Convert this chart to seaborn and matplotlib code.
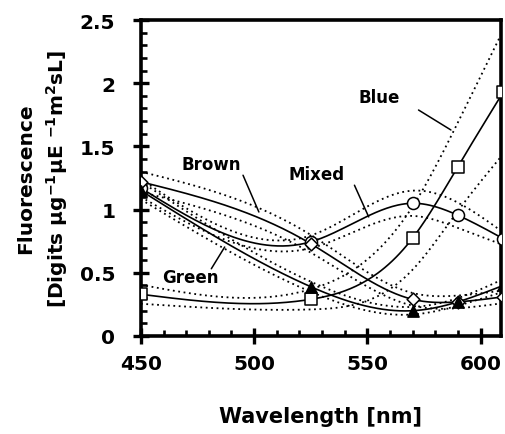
import numpy as np
import pandas as pd
import matplotlib
matplotlib.use("Agg")
import matplotlib.pyplot as plt
import seaborn as sns
from matplotlib.ticker import MultipleLocator

# measured points (wavelength, mean fluorescence, spread)
wavelength = [450, 525, 570, 590, 610]
blue = [0.33, 0.29, 0.775, 1.34, 1.93]
blue_sd = [0.075, 0.08, 0.25, 0.35, 0.49]
mixed = [1.17, 0.745, 1.05, 0.955, 0.77]
mixed_sd = [0.07, 0.05, 0.10, 0.10, 0.05]
brown = [1.22, 0.73, 0.29, 0.27, 0.31]
brown_sd = [0.08, 0.07, 0.05, 0.05, 0.05]
green = [1.15, 0.39, 0.20, 0.27, 0.40]
green_sd = [0.07, 0.04, 0.03, 0.03, 0.05]

series_names = ["Blue", "Mixed", "Brown", "Green"]


def smooth(x, y, n=200):
    # natural cubic spline, only used to draw the curve through the points
    x = np.asarray(x, float)
    y = np.asarray(y, float)
    h = np.diff(x)
    m = len(x)
    A = np.zeros((m, m))
    b = np.zeros(m)
    A[0, 0] = A[-1, -1] = 1
    for i in range(1, m - 1):
        A[i, i - 1] = h[i - 1]
        A[i, i] = 2 * (h[i - 1] + h[i])
        A[i, i + 1] = h[i]
        b[i] = 3 * ((y[i + 1] - y[i]) / h[i] - (y[i] - y[i - 1]) / h[i - 1])
    c = np.linalg.solve(A, b)
    bb = (y[1:] - y[:-1]) / h - h * (2 * c[:-1] + c[1:]) / 3
    d = (c[1:] - c[:-1]) / (3 * h)
    xs = np.linspace(x[0], x[-1], n)
    idx = np.clip(np.searchsorted(x, xs) - 1, 0, m - 2)
    dx = xs - x[idx]
    ys = y[idx] + bb[idx] * dx + c[idx] * dx ** 2 + d[idx] * dx ** 3
    return xs, ys


sns.set_style("ticks")
plt.rcParams["font.family"] = ["DejaVu Sans"]
plt.rcParams["font.weight"] = "bold"
plt.rcParams["mathtext.default"] = "regular"
for key in ["text.color", "axes.labelcolor", "axes.edgecolor",
            "xtick.color", "ytick.color"]:
    plt.rcParams[key] = "black"

fig = plt.figure(figsize=(5.05, 4.35), dpi=100)
ax = fig.add_axes([0.279, 0.2253, 0.713, 0.7264])

styles = {
    "Blue": (blue, blue_sd, "s", "white", 75),
    "Mixed": (mixed, mixed_sd, "o", "white", 75),
    "Brown": (brown, brown_sd, "D", "white", 42),
    "Green": (green, green_sd, "^", "black", 65),
}

for name in series_names:
    vals, sd, mk, fc, sz = styles[name]
    vals = np.array(vals)
    sd = np.array(sd)
    for bound in (vals + sd, vals - sd):
        xs, ys = smooth(wavelength, bound)
        sns.lineplot(x=xs, y=ys, ax=ax, color="black", lw=1.3,
                     linestyle=(0, (1, 2.0)), sort=False)
    xs, ys = smooth(wavelength, vals)
    sns.lineplot(x=xs, y=ys, ax=ax, color="black", lw=1.2, sort=False)

for name in series_names:
    vals, sd, mk, fc, sz = styles[name]
    df = pd.DataFrame({"wl": wavelength, "f": vals})
    sns.scatterplot(data=df, x="wl", y="f", ax=ax, marker=mk, s=sz,
                    facecolor=fc, edgecolor="black", linewidth=1.1, zorder=5)

# curve labels with pointer lines
labels = {
    "Blue": ((555.3, 1.89), (572.6, 1.788), (586.9, 1.63)),
    "Brown": ((481.1, 1.361), (495.1, 1.272), (502.1, 0.981)),
    "Mixed": ((527.4, 1.282), (544.3, 1.193), (550.6, 0.942)),
    "Green": ((471.9, 0.47), (487.0, 0.704), (481.1, 0.532)),
}
for name, (tpos, p0, p1) in labels.items():
    ax.text(tpos[0], tpos[1], name, ha="center", va="center",
            fontsize=12, fontweight="bold")
    ax.plot([p0[0], p1[0]], [p0[1], p1[1]], color="black", lw=1.1)

ax.set_xlim(450, 609)
ax.set_ylim(0, 2.5)
ax.xaxis.set_major_locator(MultipleLocator(50))
ax.xaxis.set_minor_locator(MultipleLocator(10))
ax.yaxis.set_minor_locator(MultipleLocator(0.1))
ax.set_yticks([0, 0.5, 1, 1.5, 2, 2.5])
ax.set_yticklabels(["0", "0.5", "1", "1.5", "2", "2.5"])

for sp in ax.spines.values():
    sp.set_visible(True)
    sp.set_linewidth(2.6)
    sp.set_color("black")
ax.tick_params(which="major", direction="inout", length=12, width=2.4,
               labelsize=14.5, colors="black")
ax.tick_params(axis="x", which="major", pad=7)
ax.tick_params(axis="y", which="major", pad=12.5)
ax.tick_params(which="minor", direction="in", length=4, width=1.9,
               colors="black")
for lab in ax.get_xticklabels() + ax.get_yticklabels():
    lab.set_fontweight("bold")

ax.set_xlabel("Wavelength [nm]", fontsize=15, fontweight="bold")
ax.xaxis.set_label_coords(0.5, -0.22)
ax.set_ylabel("Fluorescence\n[Digits µg$^{-1}$µE $^{-1}$m$^{2}$sL]",
              fontsize=14.5, fontweight="bold", linespacing=1.45)
ax.yaxis.set_label_coords(-0.197, 0.5)

fig.savefig("out.png", dpi=100)
